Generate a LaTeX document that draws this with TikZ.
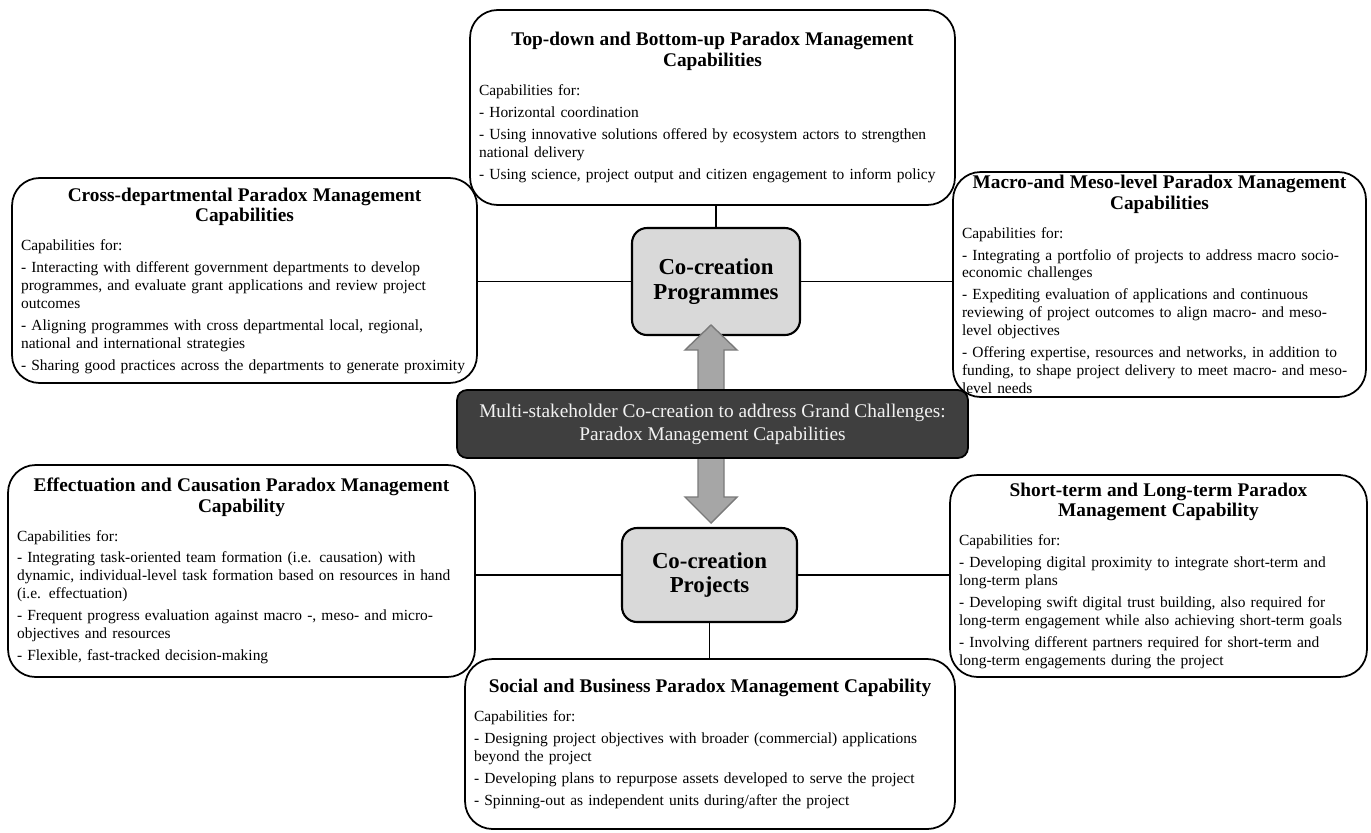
\documentclass[tikz,border=0pt]{standalone}
\usepackage{fontspec}
\setmainfont{Liberation Serif}
\usetikzlibrary{positioning}
\definecolor{corefill}{HTML}{D9D9D9}
\definecolor{hubfill}{HTML}{3F3F3F}
\definecolor{hubtext}{HTML}{F2F2F2}
\definecolor{arrowfill}{HTML}{A6A6A6}
\definecolor{arrowline}{HTML}{7A7A7A}
\newcommand{\boxhead}[1]{{\centering\fontsize{11}{11.6}\selectfont\bfseries #1\par}\vspace{4pt}}
\tikzset{
  capbox/.style={rectangle,draw=black,line width=1pt,rounded corners=0.55cm,
    align=left,inner xsep=0.18cm,inner ysep=0cm,
    font=\fontsize{8.8}{10.2}\selectfont,
    execute at begin node={\setlength{\parindent}{0pt}\setlength{\parskip}{2.3pt}}},
  corebox/.style={rectangle,draw=black,line width=1.2pt,rounded corners=0.3cm,fill=corefill,
    align=center,font=\fontsize{13}{14}\selectfont\bfseries},
  hubbox/.style={rectangle,draw=black,line width=1pt,rounded corners=0.2cm,fill=hubfill,
    text=hubtext,align=center,font=\fontsize{11}{13}\selectfont},
  tie/.style={draw=black,line width=0.8pt},
  bigarrow/.style={fill=arrowfill,draw=arrowline,line width=0.8pt}
}
\begin{document}
\begin{tikzpicture}[x=0.02cm,y=-0.02cm]
\useasboundingbox (0,0) rectangle (1371,832);
% outer capability boxes
\node[capbox,text width=9.34cm,minimum height=3.9cm] (top) at (712.5,107.5){\boxhead{Top-down and Bottom-up Paradox Management\\ Capabilities}
Capabilities for:\par
- Horizontal coordination\par
- Using innovative solutions offered by ecosystem actors to strengthen\\ national delivery\par
- Using science, project output and citizen engagement to inform policy};
\node[capbox,text width=8.94cm,minimum height=4.1cm] (cross) at (244.5,280.5){\boxhead{Cross-departmental Paradox Management\\ Capabilities}
Capabilities for:\par
- Interacting with different government departments to develop\\ programmes, and evaluate grant applications and review project\\ outcomes\par
- Aligning programmes with cross departmental local, regional,\\ national and international strategies\par
- Sharing good practices across the departments to generate proximity};
\node[capbox,text width=7.9cm,minimum height=4.5cm] (macro) at (1159.5,284.5){\boxhead{Macro-and Meso-level Paradox Management\\ Capabilities}
Capabilities for:\par
- Integrating a portfolio of projects to address macro socio-\\ economic challenges\par
- Expediting evaluation of applications and continuous\\ reviewing of project outcomes to align macro- and meso-\\ level objectives\par
- Offering expertise, resources and networks, in addition to\\ funding, to shape project delivery to meet macro- and meso-\\ level needs};
\node[capbox,text width=8.98cm,minimum height=4.24cm] (effect) at (241.5,571){\boxhead{Effectuation and Causation Paradox Management\\ Capability}
Capabilities for:\par
- Integrating task-oriented team formation (i.e. causation) with\\ dynamic, individual-level task formation based on resources in hand\\ (i.e. effectuation)\par
- Frequent progress evaluation against macro -, meso- and micro-\\ objectives and resources\par
- Flexible, fast-tracked decision-making};
\node[capbox,text width=7.98cm,minimum height=4.04cm] (short) at (1158.5,576){\boxhead{Short-term and Long-term Paradox\\ Management Capability}
Capabilities for:\par
- Developing digital proximity to integrate short-term and\\ long-term plans\par
- Developing swift digital trust building, also required for\\ long-term engagement while also achieving short-term goals\par
- Involving different partners required for short-term and\\ long-term engagements during the project};
\node[capbox,text width=9.44cm,minimum height=3.4cm] (social) at (710,744){\boxhead{Social and Business Paradox Management Capability}
Capabilities for:\par
- Designing project objectives with broader (commercial) applications\\ beyond the project\par
- Developing plans to repurpose assets developed to serve the project\par
- Spinning-out as independent units during/after the project};
% co-creation levels
\node[corebox,minimum width=3.36cm,minimum height=2.14cm] (prog) at (716,281.5){Co-creation\\ Programmes};
\node[corebox,minimum width=3.5cm,minimum height=1.88cm] (proj) at (709.5,575){Co-creation\\ Projects};
% ties
\draw[tie] (prog.north) -- (prog.north |- top.south);
\draw[tie] (prog.west) -- (prog.west -| cross.east);
\draw[tie] (prog.east) -- (prog.east -| macro.west);
\draw[tie] (proj.west) -- (proj.west -| effect.east);
\draw[tie] (proj.east) -- (proj.east -| short.west);
\draw[tie] (proj.south) -- (proj.south |- social.north);
% double arrow behind the hub
\draw[bigarrow] (711,325) -- (737,350) -- (724,350) -- (724,497) -- (737,497) -- (711,523)
  -- (685,497) -- (698,497) -- (698,350) -- (685,350) -- cycle;
\node[hubbox,minimum width=10.22cm,minimum height=1.36cm] (hub) at (712.5,424){Multi-stakeholder Co-creation to address Grand Challenges:\\ Paradox Management Capabilities};
\end{tikzpicture}
\end{document}
